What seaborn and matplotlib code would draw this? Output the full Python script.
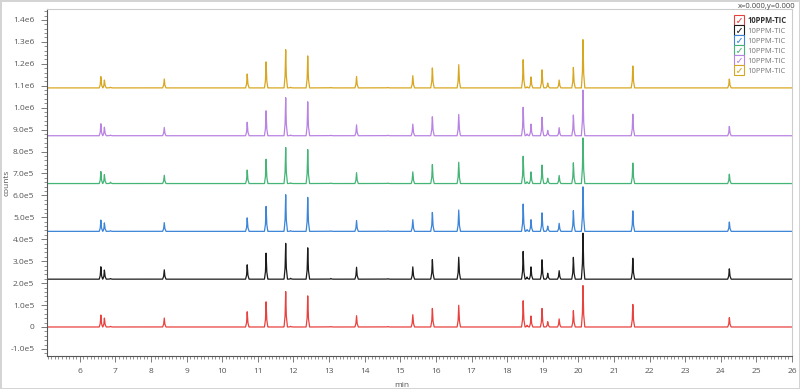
import numpy as np
import pandas as pd
import seaborn as sns
import matplotlib.pyplot as plt
from matplotlib.lines import Line2D
from matplotlib.ticker import FuncFormatter, MultipleLocator

# retention times (min) of the peaks
rt = [6.59, 6.69, 6.86, 8.37, 10.70, 11.23, 11.78, 11.92, 12.40, 13.05, 13.77, 14.65,
      15.35, 15.90, 16.64, 18.45, 18.56, 18.67, 18.98, 19.14, 19.46, 19.86, 20.13,
      21.53, 24.24]

# peak heights per trace, in units of 1e5 counts
h_red    = [0.55, 0.42, 0.03, 0.43, 0.70, 1.16, 1.72, 0.03, 1.42, 0.02, 0.54, 0.02,
            0.58, 0.90, 1.02, 1.20, 0.08, 0.52, 0.85, 0.25, 0.38, 0.75, 2.00, 1.10, 0.45]
h_black  = [0.57, 0.43, 0.03, 0.45, 0.66, 1.20, 1.74, 0.04, 1.43, 0.03, 0.57, 0.02,
            0.58, 0.95, 1.03, 1.27, 0.10, 0.58, 0.89, 0.28, 0.40, 1.00, 2.22, 1.02, 0.50]
h_blue   = [0.52, 0.40, 0.03, 0.42, 0.62, 1.15, 1.78, 0.03, 1.55, 0.02, 0.52, 0.02,
            0.55, 0.92, 1.00, 1.25, 0.08, 0.55, 0.85, 0.25, 0.38, 0.95, 2.15, 1.00, 0.45]
h_green  = [0.55, 0.42, 0.06, 0.40, 0.62, 1.12, 1.75, 0.03, 1.55, 0.02, 0.52, 0.02,
            0.55, 0.92, 1.00, 1.25, 0.08, 0.55, 0.85, 0.25, 0.38, 0.95, 2.20, 1.00, 0.45]
h_purple = [0.55, 0.40, 0.03, 0.40, 0.62, 1.15, 1.85, 0.03, 1.55, 0.02, 0.52, 0.02,
            0.55, 0.92, 1.00, 1.30, 0.08, 0.55, 0.85, 0.25, 0.38, 0.95, 2.20, 1.05, 0.45]
h_yellow = [0.52, 0.37, 0.03, 0.43, 0.64, 1.20, 1.86, 0.03, 1.46, 0.02, 0.55, 0.02,
            0.58, 0.97, 1.09, 1.29, 0.05, 0.52, 0.83, 0.23, 0.37, 0.94, 2.33, 1.07, 0.43]

# baseline offset of each trace (counts)
offsets = [0, 2.18e5, 4.36e5, 6.54e5, 8.72e5, 10.9e5]
names = ['10PPM-TIC'] * 6
colors = ['#e8423f', '#1c1c1c', '#3c85d8', '#45b577', '#b883e2', '#d8a722']

# peak shape template (offset in min, fraction of height)
shape_dx = [-0.045, -0.016, 0.0, 0.018, 0.05]
shape_f = [0.0, 0.3, 1.0, 0.3, 0.0]

t = np.linspace(5.0, 26.2, 6000)
rows = []
for i, (heights, base) in enumerate(zip([h_red, h_black, h_blue, h_green, h_purple, h_yellow], offsets)):
    y = np.full_like(t, base)
    for r, h in zip(rt, heights):
        y += np.interp(t, np.array(shape_dx) + r, np.array(shape_f) * h * 1e5, left=0, right=0)
    rows.append(pd.DataFrame({'min': t, 'counts': y, 'trace': f't{i}'}))
df = pd.concat(rows, ignore_index=True)

sns.set_style('white')
plt.rcParams['font.family'] = ['Open Sans', 'DejaVu Sans']

fig = plt.figure(figsize=(8, 3.89), dpi=100)
fig.patch.set_edgecolor('#d4d4d4')
fig.patch.set_linewidth(2)
ax = fig.add_axes([0.0584, 0.085, 0.9316, 0.892])

sns.lineplot(data=df, x='min', y='counts', hue='trace', palette=colors,
             estimator=None, sort=False, legend=False, lw=0.9, ax=ax)

ax.set_xlim(5.07, 26.0)
ax.set_ylim(-1.32e5, 1.45e6)
ax.xaxis.set_major_locator(MultipleLocator(1))
ax.xaxis.set_minor_locator(MultipleLocator(0.1))
ax.yaxis.set_major_locator(MultipleLocator(1e5))
ax.yaxis.set_minor_locator(MultipleLocator(2e4))


def fmt(v, pos):
    if abs(v) < 1:
        return '0'
    e = int(np.floor(np.log10(abs(v)) + 1e-9))
    return f'{v / 10**e:.1f}e{e}'


ax.yaxis.set_major_formatter(FuncFormatter(fmt))
ax.tick_params(axis='both', which='major', direction='out', length=4, width=0.6,
               color='#666666', labelsize=6, labelcolor='#555555', pad=5)
ax.tick_params(axis='both', which='minor', direction='out', length=2, width=0.5,
               color='#666666')
ax.tick_params(axis='x', which='both', bottom=True)
ax.tick_params(axis='y', which='both', left=True)

for s in ['left', 'bottom']:
    ax.spines[s].set_color('#555555')
    ax.spines[s].set_linewidth(0.8)
for s in ['top', 'right']:
    ax.spines[s].set_color('#cccccc')
    ax.spines[s].set_linewidth(0.8)

ax.set_xlabel('min', fontsize=6, color='#555555')
ax.xaxis.set_label_coords(0.477, -0.075)
ax.set_ylabel('counts', fontsize=6, color='#555555')
ax.yaxis.set_label_coords(-0.048, 0.5)

# checkbox legend
handles = []
for c in colors:
    box = Line2D([], [], marker='s', ls='none', markersize=6.5, markerfacecolor='white',
                 markeredgecolor=c, markeredgewidth=0.8)
    tick = Line2D([], [], marker='$\u2713$', ls='none', markersize=3.5, color=c,
                  markeredgewidth=0.1)
    handles.append((box, tick))
leg = ax.legend(handles, names, loc='upper right', bbox_to_anchor=(1.0, 0.995),
                frameon=False, fontsize=5.5, handlelength=1.0, handletextpad=0.6,
                labelspacing=0.35, borderaxespad=0.3)
for i, txt in enumerate(leg.get_texts()):
    txt.set_color('#333333' if i == 0 else '#777777')
leg.get_texts()[0].set_fontweight('bold')

fig.text(0.994, 0.992, 'x=0.000,y=0.000', ha='right', va='top', fontsize=5.5,
         color='#444444')

fig.savefig('out.png', dpi=100)
